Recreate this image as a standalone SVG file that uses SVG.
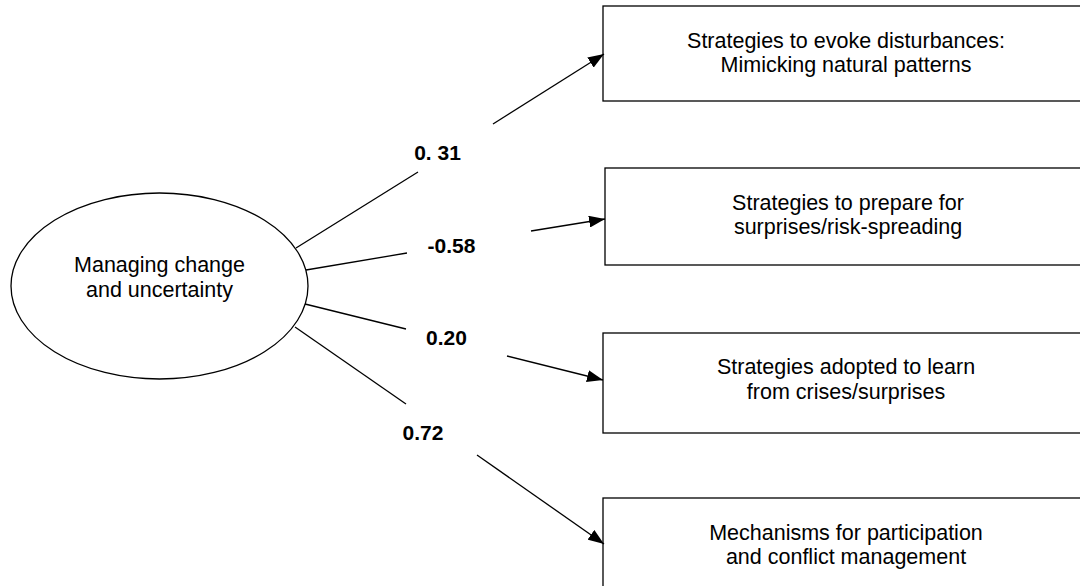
<svg xmlns="http://www.w3.org/2000/svg" width="1080" height="586" viewBox="0 0 1080 586">
<style>
.shape{fill:#fff;stroke:#000;stroke-width:1.3}
.t{font-family:"Liberation Sans",Arial,sans-serif;font-size:21.5px;fill:#000;text-anchor:middle}
.lbl{font-family:"Liberation Sans",Arial,sans-serif;font-size:21px;font-weight:bold;fill:#000;text-anchor:middle}
.c{stroke:#000;stroke-width:1.3;fill:none}
</style>
<defs>
<marker id="arr" markerUnits="userSpaceOnUse" markerWidth="16" markerHeight="12" refX="16" refY="6" orient="auto">
<path d="M0,0 L16,6 L0,12 Z" fill="#000"/>
</marker>
</defs>
<rect width="1080" height="586" fill="#fff"/>
<g id="latent">
<ellipse class="shape" cx="159.5" cy="286" rx="148.5" ry="93"/>
<text class="t" x="159.5" y="272">Managing change</text>
<text class="t" x="159.5" y="297">and uncertainty</text>
</g>
<g id="box1">
<rect class="shape" x="603" y="6" width="490" height="95"/>
<text class="t" x="846" y="48">Strategies to evoke disturbances:</text>
<text class="t" x="846" y="72">Mimicking natural patterns</text>
</g>
<g id="box2">
<rect class="shape" x="605" y="168" width="490" height="97"/>
<text class="t" x="848" y="210">Strategies to prepare for</text>
<text class="t" x="848" y="234">surprises/risk-spreading</text>
</g>
<g id="box3">
<rect class="shape" x="603" y="333" width="490" height="100"/>
<text class="t" x="846" y="374">Strategies adopted to learn</text>
<text class="t" x="846" y="399">from crises/surprises</text>
</g>
<g id="box4">
<rect class="shape" x="603" y="498" width="490" height="100"/>
<text class="t" x="846" y="540">Mechanisms for participation</text>
<text class="t" x="846" y="564">and conflict management</text>
</g>
<g id="connectors">
<line class="c" x1="296" y1="248" x2="418" y2="172"/>
<line class="c" x1="493" y1="124" x2="604" y2="54" marker-end="url(#arr)"/>
<line class="c" x1="306" y1="270" x2="407" y2="253"/>
<line class="c" x1="531" y1="231" x2="605" y2="219" marker-end="url(#arr)"/>
<line class="c" x1="305" y1="304" x2="406" y2="329"/>
<line class="c" x1="507" y1="356" x2="603" y2="380" marker-end="url(#arr)"/>
<line class="c" x1="295" y1="327" x2="406" y2="404"/>
<line class="c" x1="477" y1="455" x2="604" y2="544" marker-end="url(#arr)"/>
<text class="lbl" x="437.5" y="160">0. 31</text>
<text class="lbl" x="451.5" y="253">-0.58</text>
<text class="lbl" x="446.5" y="345">0.20</text>
<text class="lbl" x="423" y="440">0.72</text>
</g>
</svg>
